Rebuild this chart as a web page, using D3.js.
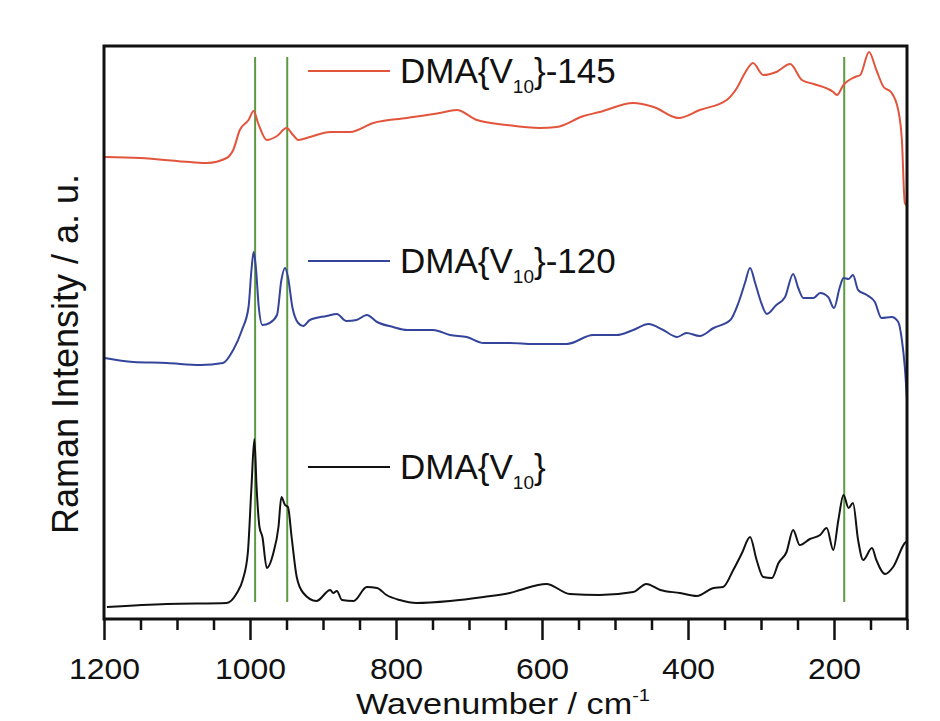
<!DOCTYPE html>
<html>
<head>
<meta charset="utf-8">
<script src="https://cdn.jsdelivr.net/npm/d3@7"></script>
<style>
  body { margin: 0; background: #fff; }
  text { font-family: Arial, "Liberation Sans", sans-serif; fill: #111; }
</style>
</head>
<body>
<svg id="chart" width="940" height="721"></svg>
<script>
// wavenumber (cm-1) / intensity (a.u.)
const dmaWn = [1196, 1114, 1032, 1018, 1010, 1003, 998, 994, 991, 987, 983, 977, 968, 961, 957, 952, 948, 943, 936, 927,
  909, 890, 886, 881, 874, 858, 840, 826, 813, 795, 772, 726, 680, 644, 630, 594, 562, 521, 475, 457,
  438, 411, 388, 365, 352, 338, 326, 315, 306, 297, 285, 276, 265, 256, 247, 233, 219, 210, 201, 194,
  187, 180, 174, 167, 160, 148, 142, 130, 119, 103, 100];
const dmaI = [12, 15, 16, 26, 39, 66, 132, 180, 132, 92, 82, 51, 66, 92, 122, 114, 112, 82, 42, 26,
  18, 29, 26, 28, 19, 18, 32, 31, 24, 19, 16, 18, 22, 26, 29, 35, 25, 24, 27, 35,
  29, 26, 23, 31, 32, 49, 66, 82, 59, 42, 41, 56, 67, 89, 74, 80, 84, 91, 69, 99,
  124, 111, 116, 79, 59, 71, 59, 45, 52, 76, 78];

const dma120Wn = [1199, 1160, 1114, 1068, 1037, 1023, 1011, 1002, 998, 995, 992, 988, 983, 973, 963, 957, 952, 948, 942, 934,
  927, 918, 895, 881, 868, 854, 840, 826, 804, 785, 749, 726, 703, 680, 644, 612, 566, 530, 498, 475,
  454, 434, 415, 402, 384, 365, 342, 331, 322, 315, 308, 301, 292, 279, 267, 256, 249, 242, 228, 219,
  208, 200, 192, 187, 180, 174, 167, 155, 144, 135, 121, 112, 107, 103, 100];
const dma120I = [261, 257, 256, 254, 256, 269, 289, 312, 349, 367, 352, 312, 294, 296, 304, 339, 351, 342, 312, 296,
  293, 299, 303, 305, 298, 299, 304, 297, 292, 289, 289, 284, 282, 276, 276, 275, 275, 284, 284, 289,
  295, 289, 282, 286, 283, 291, 299, 316, 336, 351, 336, 319, 305, 314, 322, 345, 331, 321, 321, 326,
  322, 311, 332, 341, 340, 344, 329, 324, 317, 301, 302, 297, 279, 252, 219];

const dma145Wn = [1199, 1151, 1082, 1059, 1032, 1023, 1014, 1002, 995, 989, 977, 963, 950, 941, 934, 918, 890, 863, 831, 785,
  740, 717, 689, 648, 603, 580, 543, 521, 475, 447, 413, 384, 347, 333, 322, 311, 297, 279, 260, 244,
  228, 201, 196, 187, 171, 164, 152, 142, 132, 122, 112, 107, 103, 100];
const dma145I = [462, 461, 457, 456, 461, 469, 489, 499, 508, 496, 479, 483, 491, 484, 479, 482, 487, 487, 496, 501,
  506, 509, 499, 494, 491, 492, 503, 507, 516, 512, 501, 509, 519, 531, 546, 556, 544, 547, 555, 539,
  535, 527, 524, 534, 542, 544, 567, 549, 532, 527, 509, 479, 416, 413];

const seriesNames = ["DMA{V10}-145", "DMA{V10}-120", "DMA{V10}"];
const markerWn = [993, 949, 186];
const majorTicks = [1200, 1000, 800, 600, 400, 200];
const minorTicks = [1150, 1100, 1050, 950, 900, 850, 750, 700, 650, 550, 500, 450, 350, 300, 250, 150, 100];

const svg = d3.select("#chart");
const plotL = 104, plotR = 907, plotT = 46, plotB = 619;

const x = d3.scaleLinear().domain([1200, 100]).range([plotL, plotR]);
const y = d3.scaleLinear().domain([0, 573]).range([plotB, plotT]);

const series = [
  { name: seriesNames[0], wn: dma145Wn, val: dma145I, color: "#e2553c", legendY: 71 },
  { name: seriesNames[1], wn: dma120Wn, val: dma120I, color: "#34449a", legendY: 261 },
  { name: seriesNames[2], wn: dmaWn, val: dmaI, color: "#111111", legendY: 467 }
];

// green marker lines
svg.append("g").selectAll("line")
  .data(markerWn)
  .enter().append("line")
  .attr("x1", d => x(d)).attr("x2", d => x(d))
  .attr("y1", 57).attr("y2", 602)
  .attr("stroke", "#5e9a42").attr("stroke-width", 2);

// spectra
const line = d3.line().x(d => x(d[0])).y(d => y(d[1])).curve(d3.curveMonotoneX);
series.forEach(s => {
  svg.append("path")
    .datum(s.wn.map((w, i) => [w, s.val[i]]))
    .attr("d", line)
    .attr("fill", "none")
    .attr("stroke", s.color)
    .attr("stroke-width", 2)
    .attr("stroke-linejoin", "round");
});

// legend
series.forEach(s => {
  svg.append("line")
    .attr("x1", 308).attr("x2", 390)
    .attr("y1", s.legendY).attr("y2", s.legendY)
    .attr("stroke", s.color).attr("stroke-width", 2);
  const m = s.name.match(/^(DMA\{V)(10)(.*)$/);
  const t = svg.append("text")
    .attr("x", 400).attr("y", s.legendY + 12)
    .style("font-size", "35px");
  t.append("tspan").text(m[1]);
  t.append("tspan").attr("dy", 10).style("font-size", "19px").text(m[2]);
  t.append("tspan").attr("dy", -10).text(m[3]);
});

// frame
svg.append("rect")
  .attr("x", plotL).attr("y", plotT)
  .attr("width", plotR - plotL).attr("height", plotB - plotT)
  .attr("fill", "none").attr("stroke", "#111").attr("stroke-width", 3);

// x axis: minor and major ticks
const minorAxis = svg.append("g")
  .attr("transform", `translate(0,${plotB})`)
  .call(d3.axisBottom(x).tickValues(minorTicks).tickSize(11).tickFormat(""));
const majorAxis = svg.append("g")
  .attr("transform", `translate(0,${plotB})`)
  .call(d3.axisBottom(x).tickValues(majorTicks).tickSize(21).tickPadding(18).tickFormat(d3.format("d")));
[minorAxis, majorAxis].forEach(a => {
  a.select(".domain").remove();
  a.selectAll(".tick line").attr("stroke", "#111").attr("stroke-width", 2.5);
});
majorAxis.selectAll(".tick text")
  .attr("fill", "#111")
  .style("font-size", "29px")
  .style("font-family", "Arial, 'Liberation Sans', sans-serif")
  .attr("transform", "scale(1.1,1)");

// axis titles
const xt = svg.append("g").attr("transform", "translate(503,714) scale(1.18,1)")
  .append("text").attr("text-anchor", "middle").style("font-size", "29px");
xt.append("tspan").text("Wavenumber / cm");
xt.append("tspan").attr("dy", -13).style("font-size", "17px").text("-1");

svg.append("text")
  .attr("transform", "translate(78,354) rotate(-90)")
  .attr("text-anchor", "middle")
  .style("font-size", "36px")
  .text("Raman Intensity / a. u.");
</script>
</body>
</html>
